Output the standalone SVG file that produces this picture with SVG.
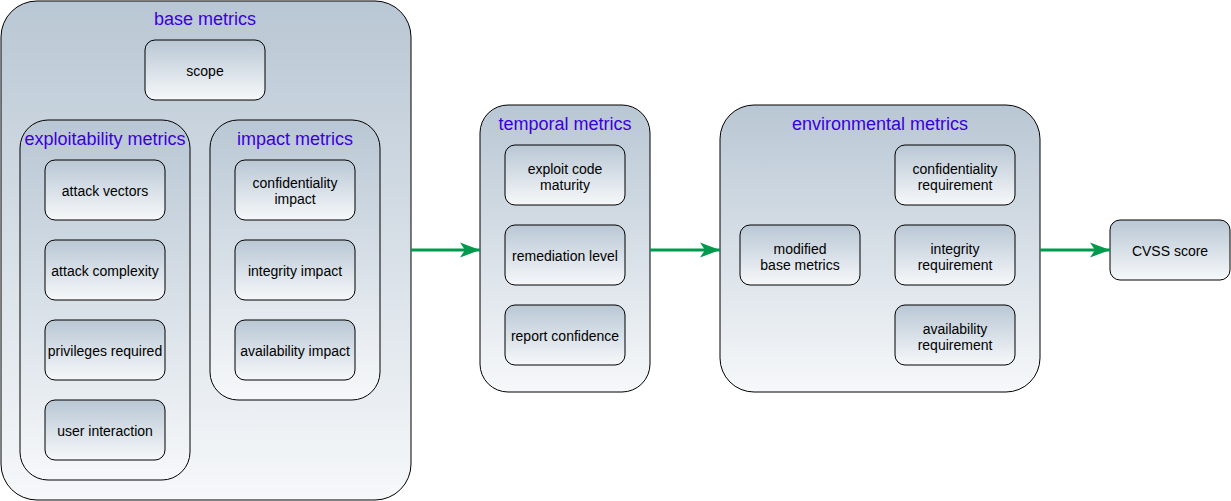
<svg xmlns="http://www.w3.org/2000/svg" width="1231" height="501" viewBox="0 0 1231 501">
<defs>
<linearGradient id="g" x1="0" y1="0" x2="0" y2="1">
<stop offset="0" stop-color="#B9C7D4"/>
<stop offset="1" stop-color="#F6F8FA"/>
</linearGradient>
<marker id="ah" viewBox="0 0 20 16" refX="20" refY="8" markerWidth="20" markerHeight="16" markerUnits="userSpaceOnUse" orient="auto">
<path d="M0,0.5 L20,8 L0,15.5 L5,8 Z" fill="#00994D"/>
</marker>
</defs>
<style>
rect{fill:url(#g);stroke:#000;stroke-width:1}
text{font-family:"Liberation Sans",Arial,sans-serif;text-anchor:middle}
.t{font-size:18px;fill:#3A00DD}
.n{font-size:14px;fill:#000}
.c{stroke:#00994D;stroke-width:3;fill:none;marker-end:url(#ah)}
</style>
<g id="base-metrics">
<rect x="1" y="1" width="410" height="499" rx="36" ry="36"/>
<text class="t" x="205" y="25">base metrics</text>
</g>
<g id="scope">
<rect x="145" y="40" width="120" height="60" rx="10" ry="10"/>
<text class="n" x="205" y="76">scope</text>
</g>
<g id="exploitability-metrics">
<rect x="20" y="120" width="170" height="360" rx="28" ry="28"/>
<text class="t" x="105" y="145">exploitability metrics</text>
</g>
<g id="attack-vectors">
<rect x="45" y="160" width="120" height="60" rx="10" ry="10"/>
<text class="n" x="105" y="196">attack vectors</text>
</g>
<g id="attack-complexity">
<rect x="45" y="240" width="120" height="60" rx="10" ry="10"/>
<text class="n" x="105" y="276">attack complexity</text>
</g>
<g id="privileges-required">
<rect x="45" y="320" width="120" height="60" rx="10" ry="10"/>
<text class="n" x="105" y="356">privileges required</text>
</g>
<g id="user-interaction">
<rect x="45" y="400" width="120" height="60" rx="10" ry="10"/>
<text class="n" x="105" y="436">user interaction</text>
</g>
<g id="impact-metrics">
<rect x="210" y="120" width="170" height="280" rx="28" ry="28"/>
<text class="t" x="295" y="145">impact metrics</text>
</g>
<g id="confidentiality-impact">
<rect x="235" y="160" width="120" height="60" rx="10" ry="10"/>
<text class="n" x="295" y="188">confidentiality</text>
<text class="n" x="295" y="204">impact</text>
</g>
<g id="integrity-impact">
<rect x="235" y="240" width="120" height="60" rx="10" ry="10"/>
<text class="n" x="295" y="276">integrity impact</text>
</g>
<g id="availability-impact">
<rect x="235" y="320" width="120" height="60" rx="10" ry="10"/>
<text class="n" x="295" y="356">availability impact</text>
</g>
<g id="temporal-metrics">
<rect x="480" y="105" width="170" height="287" rx="28" ry="28"/>
<text class="t" x="565" y="130">temporal metrics</text>
</g>
<g id="exploit-code-maturity">
<rect x="505" y="145" width="120" height="60" rx="10" ry="10"/>
<text class="n" x="565" y="174">exploit code</text>
<text class="n" x="565" y="190">maturity</text>
</g>
<g id="remediation-level">
<rect x="505" y="225" width="120" height="60" rx="10" ry="10"/>
<text class="n" x="565" y="261">remediation level</text>
</g>
<g id="report-confidence">
<rect x="505" y="305" width="120" height="60" rx="10" ry="10"/>
<text class="n" x="565" y="341">report confidence</text>
</g>
<g id="environmental-metrics">
<rect x="720" y="105" width="320" height="287" rx="34" ry="34"/>
<text class="t" x="880" y="130">environmental metrics</text>
</g>
<g id="modified-base-metrics">
<rect x="740" y="225" width="120" height="60" rx="10" ry="10"/>
<text class="n" x="800" y="254">modified</text>
<text class="n" x="800" y="270">base metrics</text>
</g>
<g id="confidentiality-requirement">
<rect x="895" y="145" width="120" height="60" rx="10" ry="10"/>
<text class="n" x="955" y="174">confidentiality</text>
<text class="n" x="955" y="190">requirement</text>
</g>
<g id="integrity-requirement">
<rect x="895" y="225" width="120" height="60" rx="10" ry="10"/>
<text class="n" x="955" y="254">integrity</text>
<text class="n" x="955" y="270">requirement</text>
</g>
<g id="availability-requirement">
<rect x="895" y="305" width="120" height="60" rx="10" ry="10"/>
<text class="n" x="955" y="334">availability</text>
<text class="n" x="955" y="350">requirement</text>
</g>
<g id="cvss-score">
<rect x="1110" y="220" width="120" height="60" rx="10" ry="10"/>
<text class="n" x="1170" y="256">CVSS score</text>
</g>
<g id="connectors">
<path class="c" d="M411,250 L480,250"/>
<path class="c" d="M650,250 L720,250"/>
<path class="c" d="M1040,250 L1110,250"/>
</g>
</svg>
